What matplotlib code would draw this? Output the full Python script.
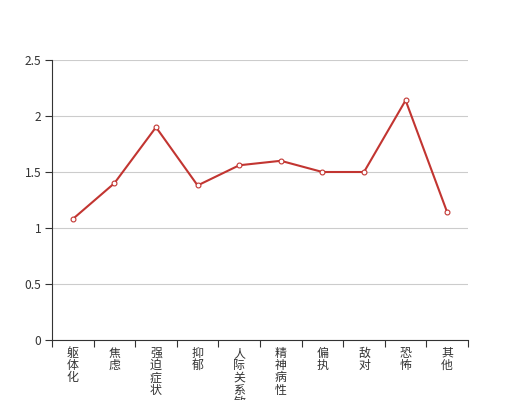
import matplotlib
matplotlib.use("Agg")
import matplotlib.pyplot as plt
from matplotlib.ticker import FixedLocator

plt.rcParams['font.family'] = ['Noto Sans CJK SC', 'DejaVu Sans']

categories = ["躯体化", "焦虑", "强迫症状", "抑郁", "人际关系敏感", "精神病性", "偏执", "敌对", "恐怖", "其他"]
values = [1.08, 1.40, 1.90, 1.38, 1.56, 1.60, 1.50, 1.50, 2.14, 1.14]
y_ticks = [0, 0.5, 1, 1.5, 2, 2.5]
y_tick_labels = ["0", "0.5", "1", "1.5", "2", "2.5"]

fig = plt.figure(figsize=(5.2, 4.0), dpi=100)
ax = fig.add_axes([52/520, 60/400, 416/520, 280/400])

x = list(range(len(categories)))
ax.plot(x, values, color="#c23531", lw=1.5, marker="o", markersize=3.5,
        markerfacecolor="white", markeredgecolor="#c23531", markeredgewidth=0.8, zorder=3, clip_on=False)

ax.set_xlim(-0.5, len(categories) - 0.5)
ax.set_ylim(0, 2.5)
ax.set_yticks(y_ticks)
ax.set_yticklabels(y_tick_labels)
ax.yaxis.grid(True, color="#cccccc", lw=0.8)
ax.set_axisbelow(True)

ax.set_xticks(x)
ax.set_xticklabels(["\n".join(c) for c in categories], linespacing=0.92, va="top")
ax.xaxis.set_minor_locator(FixedLocator([i - 0.5 for i in range(len(categories) + 1)]))
ax.tick_params(axis="x", which="major", length=0, pad=5, labelsize=8.6, labelcolor="#333333")
ax.tick_params(axis="x", which="minor", length=5, width=0.8, color="#333333", direction="out")
ax.tick_params(axis="y", length=5, width=0.8, color="#333333", pad=2.5, labelsize=8.6, labelcolor="#333333")

for s in ["top", "right"]:
    ax.spines[s].set_visible(False)
for s in ["left", "bottom"]:
    ax.spines[s].set_color("#333333")
    ax.spines[s].set_linewidth(0.8)

fig.savefig("out.png", dpi=100, facecolor="white")
